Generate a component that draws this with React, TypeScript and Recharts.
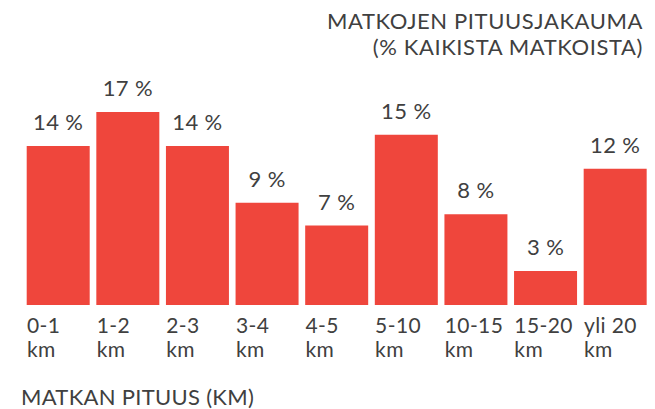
import React from "react";
import { BarChart, Bar, XAxis, YAxis, LabelList } from "recharts";

const categories = ["0-1 km", "1-2 km", "2-3 km", "3-4 km", "4-5 km", "5-10 km", "10-15 km", "15-20 km", "yli 20 km"];
const values = [14, 17, 14, 9, 7, 15, 8, 3, 12];
const valueLabels = ["14 %", "17 %", "14 %", "9 %", "7 %", "15 %", "8 %", "3 %", "12 %"];

const data = categories.map((c, i) => ({ name: c, value: values[i], label: valueLabels[i] }));

const FONT = "Lato, 'Open Sans', sans-serif";
const TEXT = "#404040";
const BAR = "#EF463C";
const BAR_W = 63;

const Tick = (props: any) => {
  const { x, payload } = props;
  const s: string = payload.value;
  const idx = s.lastIndexOf(" ");
  const l1 = s.slice(0, idx);
  const l2 = s.slice(idx + 1);
  const left = x - BAR_W / 2;
  return (
    <g>
      <text x={left} y={333} fill={TEXT} fontSize={21} fontFamily={FONT} letterSpacing={0.4}>{l1}</text>
      <text x={left} y={357} fill={TEXT} fontSize={21} fontFamily={FONT} letterSpacing={0.4}>{l2}</text>
    </g>
  );
};

const ValLabel = (props: any) => {
  const { x, y, width, value } = props;
  return (
    <text x={x + width / 2} y={y - 16} textAnchor="middle" fill={TEXT} fontSize={22} fontFamily={FONT} letterSpacing={0.4}>
      {value}
    </text>
  );
};

export default function App() {
  return (
    <div style={{ position: "absolute", left: 0, top: 0, width: 655, height: 409, background: "#fff", fontFamily: FONT }}>
      <BarChart
        width={655}
        height={409}
        data={data}
        margin={{ top: 78, right: 4.7, bottom: 64, left: 23.7 }}
      >
        <XAxis dataKey="name" axisLine={false} tickLine={false} tick={<Tick />} interval={0} height={40} />
        <YAxis hide domain={[0, 20]} width={0} />
        <Bar dataKey="value" fill={BAR} barSize={BAR_W} isAnimationActive={false}>
          <LabelList dataKey="label" content={<ValLabel />} />
        </Bar>
      </BarChart>
      <svg width={655} height={409} style={{ position: "absolute", left: 0, top: 0, pointerEvents: "none" }}>
        <text x={643} y={29} textAnchor="end" fill={TEXT} fontSize={22} fontFamily={FONT} letterSpacing={0.6}>MATKOJEN PITUUSJAKAUMA</text>
        <text x={643} y={55} textAnchor="end" fill={TEXT} fontSize={22} fontFamily={FONT} letterSpacing={0.6}>(% KAIKISTA MATKOISTA)</text>
        <text x={21} y={405} fill={TEXT} fontSize={22} fontFamily={FONT} letterSpacing={0.3}>MATKAN PITUUS (KM)</text>
      </svg>
    </div>
  );
}
